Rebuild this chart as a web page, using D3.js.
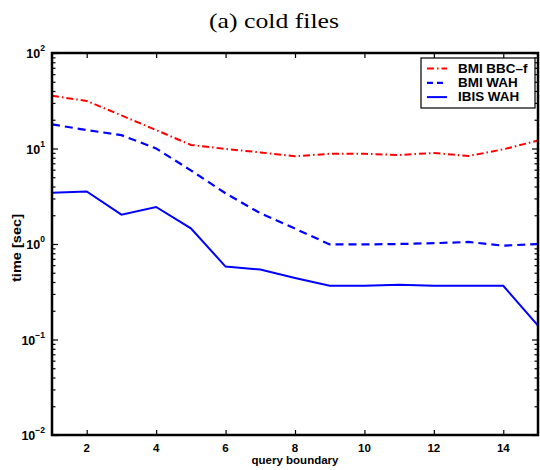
<!DOCTYPE html>
<html>
<head>
<meta charset="utf-8">
<script src="https://cdn.jsdelivr.net/npm/d3@7"></script>
<style>
  body { margin: 0; background: #fff; }
  .tick text { display: none; }
</style>
</head>
<body>
<div id="chart"></div>
<script>
// values (seconds, log axis)
const queryBoundary = [1, 2, 3, 4, 5, 6, 7, 8, 9, 10, 11, 12, 13, 14, 15];
const bmiBBCf = [35.6, 31.5, 22.2, 15.6, 10.9, 9.9, 9.1, 8.3, 8.8, 8.8, 8.55, 8.97, 8.35, 9.8, 12.1];
const bmiWAH = [17.9, 15.6, 13.8, 10.0, 5.9, 3.4, 2.1, 1.45, 0.99, 0.99, 1.0, 1.02, 1.05, 0.96, 1.0];
const ibisWAH = [3.45, 3.55, 2.03, 2.44, 1.46, 0.58, 0.54, 0.44, 0.365, 0.365, 0.375, 0.365, 0.365, 0.365, 0.14];
const seriesNames = ['BMI BBC\u2013f', 'BMI WAH', 'IBIS WAH'];
const xTicks = [2, 4, 6, 8, 10, 12, 14];
const yExponents = [-2, -1, 0, 1, 2];

const width = 540, height = 470;
const margin = { top: 53, right: 2, bottom: 35, left: 52 };

const svg = d3.select('#chart')
  .append('svg')
  .attr('width', width)
  .attr('height', height);

const x = d3.scaleLinear()
  .domain([1, 15])
  .range([margin.left, width - margin.right]);

const y = d3.scaleLog()
  .domain([0.01, 100])
  .range([height - margin.bottom, margin.top]);

const x0 = x.range()[0], x1 = x.range()[1];
const y0 = y.range()[0], y1 = y.range()[1];

// title
svg.append('text')
  .attr('x', 274)
  .attr('y', 28)
  .attr('text-anchor', 'middle')
  .attr('textLength', 130)
  .attr('lengthAdjust', 'spacingAndGlyphs')
  .style('font-family', '"Liberation Serif", serif')
  .style('font-size', '22px')
  .text('(a) cold files');

const majors = yExponents.map(e => Math.pow(10, e));
const minors = y.ticks().filter(v => !majors.some(m => Math.abs(m - v) < 1e-9));

// ticks pointing inward on all four sides
function addAxis(gen, tx, ty) {
  const g = svg.append('g')
    .attr('transform', `translate(${tx},${ty})`)
    .call(gen);
  g.select('.domain').remove();
  g.selectAll('.tick line').attr('stroke', '#000').attr('stroke-width', 1.2);
}
addAxis(d3.axisLeft(y).tickValues(majors).tickSize(-6), x0, 0);
addAxis(d3.axisLeft(y).tickValues(minors).tickSize(-3.5), x0, 0);
addAxis(d3.axisRight(y).tickValues(majors).tickSize(-6), x1, 0);
addAxis(d3.axisRight(y).tickValues(minors).tickSize(-3.5), x1, 0);
addAxis(d3.axisBottom(x).tickValues(xTicks).tickSize(-5), 0, y0);
addAxis(d3.axisTop(x).tickValues(xTicks).tickSize(-5), 0, y1);

// lines
const line = d3.line()
  .x((d, i) => x(queryBoundary[i]))
  .y(d => y(d));

const plot = svg.append('g');
plot.append('path')
  .datum(bmiBBCf)
  .attr('d', line)
  .attr('fill', 'none')
  .attr('stroke', '#ff0000')
  .attr('stroke-width', 2)
  .attr('stroke-dasharray', '7,3,1.5,3');
plot.append('path')
  .datum(bmiWAH)
  .attr('d', line)
  .attr('fill', 'none')
  .attr('stroke', '#0000ff')
  .attr('stroke-width', 2.2)
  .attr('stroke-dasharray', '8,5');
plot.append('path')
  .datum(ibisWAH)
  .attr('d', line)
  .attr('fill', 'none')
  .attr('stroke', '#0000ff')
  .attr('stroke-width', 2);

// frame
svg.append('rect')
  .attr('x', x0)
  .attr('y', y1)
  .attr('width', x1 - x0)
  .attr('height', y0 - y1)
  .attr('fill', 'none')
  .attr('stroke', '#000')
  .attr('stroke-width', 2.5);

const labelFont = '"Liberation Sans", Arial, sans-serif';

// x tick labels
svg.append('g')
  .selectAll('text')
  .data(xTicks)
  .join('text')
  .attr('x', d => x(d))
  .attr('y', y0 + 17)
  .attr('text-anchor', 'middle')
  .style('font-family', labelFont)
  .style('font-weight', 'bold')
  .style('font-size', '11.5px')
  .text(d => d);

// y tick labels: 10^e
const yl = svg.append('g')
  .selectAll('text')
  .data(yExponents)
  .join('text')
  .attr('x', x0 - 7)
  .attr('y', d => y(Math.pow(10, d)) + 5)
  .attr('text-anchor', 'end')
  .style('font-family', labelFont)
  .style('font-weight', 'bold')
  .style('font-size', '12.5px');
yl.append('tspan').text('10');
yl.append('tspan')
  .attr('dy', -7)
  .style('font-size', '8.5px')
  .text(d => d < 0 ? '\u2212' + Math.abs(d) : d);

// axis titles
svg.append('text')
  .attr('x', (x0 + x1) / 2)
  .attr('y', height - 6)
  .attr('text-anchor', 'middle')
  .style('font-family', labelFont)
  .style('font-weight', 'bold')
  .style('font-size', '11.5px')
  .text('query boundary');

svg.append('text')
  .attr('transform', `translate(21,248) rotate(-90)`)
  .attr('text-anchor', 'middle')
  .attr('textLength', 68)
  .attr('lengthAdjust', 'spacingAndGlyphs')
  .style('font-family', labelFont)
  .style('font-weight', 'bold')
  .style('font-size', '12px')
  .text('time [sec]');

// legend
const legend = svg.append('g').attr('transform', 'translate(421,58)');
legend.append('rect')
  .attr('width', 114)
  .attr('height', 50)
  .attr('fill', '#fff')
  .attr('stroke', '#000')
  .attr('stroke-width', 1.2);

const legendStyles = [
  { color: '#ff0000', dash: '7,3,1.5,3', w: 2 },
  { color: '#0000ff', dash: '6,4', w: 2.2 },
  { color: '#0000ff', dash: null, w: 2 }
];
const rows = legend.selectAll('g.row')
  .data(seriesNames)
  .join('g')
  .attr('class', 'row')
  .attr('transform', (d, i) => `translate(0,${10.5 + i * 14.3})`);
rows.append('line')
  .attr('x1', 6)
  .attr('x2', 26)
  .attr('stroke', (d, i) => legendStyles[i].color)
  .attr('stroke-width', (d, i) => legendStyles[i].w)
  .attr('stroke-dasharray', (d, i) => legendStyles[i].dash);
rows.append('text')
  .attr('transform', 'translate(37,4) scale(1.12,1)')
  .style('font-family', labelFont)
  .style('font-weight', 'bold')
  .style('font-size', '12px')
  .text(d => d);
</script>
</body>
</html>
